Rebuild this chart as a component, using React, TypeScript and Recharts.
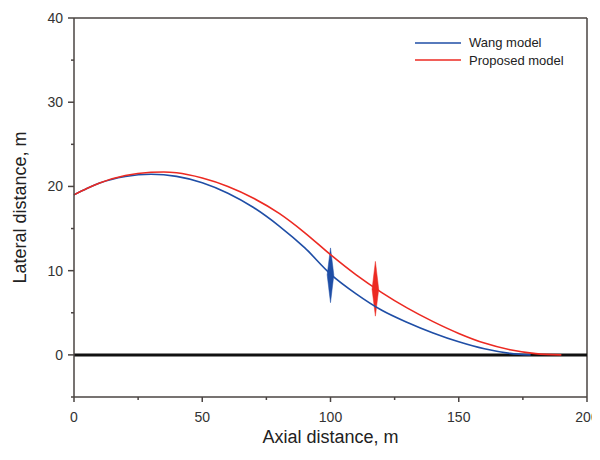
import React from "react";
import {
  ComposedChart,
  Line,
  Area,
  XAxis,
  YAxis,
  ReferenceLine,
} from "recharts";

const wangX = [0, 5, 10, 20, 30, 40, 50, 60, 70, 80, 90, 100, 110, 120, 130, 140, 150, 160, 170, 178];
const wangY = [19.0, 19.75, 20.4, 21.18, 21.45, 21.2, 20.45, 19.2, 17.5, 15.3, 12.7, 9.6, 7.25, 5.3, 3.85, 2.6, 1.55, 0.72, 0.18, 0];

const propX = [0, 5, 10, 20, 30, 35, 40, 50, 60, 70, 80, 90, 100, 110, 120, 130, 140, 150, 160, 170, 180, 190];
const propY = [19.0, 19.76, 20.42, 21.3, 21.68, 21.72, 21.62, 21.0, 20.0, 18.6, 16.8, 14.5, 11.9, 9.5, 7.4, 5.55, 3.95, 2.55, 1.4, 0.6, 0.15, 0];

// spread markers (axial position, centre, low, high)
const spreadX = [100, 117.5];
const spreadMid = [9.5, 7.8];
const spreadLow = [6.2, 4.6];
const spreadHigh = [12.7, 11.1];

const seriesNames = ["Wang model", "Proposed model"];
const xTicks = [0, 25, 50, 75, 100, 125, 150, 175, 200];
const yTicks = [-5, 0, 5, 10, 15, 20, 25, 30, 35, 40];

const BLUE = "#1f4ea6";
const RED = "#ec2a22";
const AXIS = "#4a4442";
const FONT = "'Liberation Sans', Arial, sans-serif";

const wangData = wangX.map((x, i) => ({ x, y: wangY[i] }));
const propData = propX.map((x, i) => ({ x, y: propY[i] }));

const spreadData = (i: number) => [
  { x: spreadX[i] - 1.3, v: [spreadMid[i], spreadMid[i]] },
  { x: spreadX[i], v: [spreadLow[i], spreadHigh[i]] },
  { x: spreadX[i] + 1.3, v: [spreadMid[i], spreadMid[i]] },
];

const YTick = (props: any) => {
  const { x, y, payload } = props;
  const major = payload.value >= 0 && payload.value % 10 === 0;
  return (
    <g>
      <line x1={x - (major ? 6 : 3)} x2={x} y1={y} y2={y} stroke={AXIS} strokeWidth={1.5} />
      {major && (
        <text x={x - 11} y={y} textAnchor="end" dominantBaseline="central" fontSize={14} fill="#333" fontFamily={FONT}>
          {payload.value}
        </text>
      )}
    </g>
  );
};

const XTick = (props: any) => {
  const { x, y, payload } = props;
  const major = payload.value % 50 === 0;
  return (
    <g>
      <line x1={x} x2={x} y1={y} y2={y + (major ? 5 : 3)} stroke={AXIS} strokeWidth={1.5} />
      {major && (
        <text x={x} y={y + 20} textAnchor="middle" dominantBaseline="central" fontSize={14} fill="#333" fontFamily={FONT}>
          {payload.value}
        </text>
      )}
    </g>
  );
};

export default function App() {
  const colors = [BLUE, RED];
  return (
    <div style={{ position: "relative", width: 600, height: 452, margin: "-8px 0 0 -8px" }}>
      <ComposedChart width={600} height={452} margin={{ top: 18, right: 13, bottom: 0, left: 0 }}>
        <XAxis
          type="number"
          dataKey="x"
          domain={[0, 200]}
          ticks={xTicks}
          height={55}
          tickSize={0}
          tickMargin={0}
          tick={<XTick />}
          stroke={AXIS}
          strokeWidth={1.5}
          label={{ value: "Axial distance, m", position: "insideBottom", offset: 9, fontSize: 18, fill: "#222", fontFamily: FONT }}
        />
        <YAxis
          type="number"
          domain={[-5, 40]}
          ticks={yTicks}
          width={74}
          tickSize={0}
          tickMargin={0}
          tick={<YTick />}
          stroke={AXIS}
          strokeWidth={1.5}
          label={{ value: "Lateral distance, m", angle: -90, position: "insideLeft", offset: 20, fontSize: 18, fill: "#222", fontFamily: FONT, style: { textAnchor: "middle" } }}
        />
        <ReferenceLine y={40} stroke={AXIS} strokeWidth={1.5} />
        <ReferenceLine x={200} stroke={AXIS} strokeWidth={1.5} />
        <ReferenceLine y={0} stroke="#111" strokeWidth={3} />
        <Line data={wangData} dataKey="y" name={seriesNames[0]} type="monotone" stroke={BLUE} strokeWidth={1.6} dot={false} isAnimationActive={false} />
        <Line data={propData} dataKey="y" name={seriesNames[1]} type="monotone" stroke={RED} strokeWidth={1.6} dot={false} isAnimationActive={false} />
        <Area data={spreadData(0)} dataKey="v" type="linear" stroke={BLUE} strokeWidth={0.5} fill={BLUE} fillOpacity={1} legendType="none" isAnimationActive={false} />
        <Area data={spreadData(1)} dataKey="v" type="linear" stroke={RED} strokeWidth={0.5} fill={RED} fillOpacity={1} legendType="none" isAnimationActive={false} />
      </ComposedChart>
      <div style={{ position: "absolute", left: 415, top: 34, fontFamily: FONT, fontSize: 13, color: "#222" }}>
        {seriesNames.map((name, i) => (
          <div key={name} style={{ display: "flex", alignItems: "center", height: 17.5 }}>
            <svg width={46} height={4} style={{ marginRight: 8 }}>
              <line x1={0} x2={46} y1={2} y2={2} stroke={colors[i]} strokeWidth={1.5} />
            </svg>
            <span>{name}</span>
          </div>
        ))}
      </div>
    </div>
  );
}
